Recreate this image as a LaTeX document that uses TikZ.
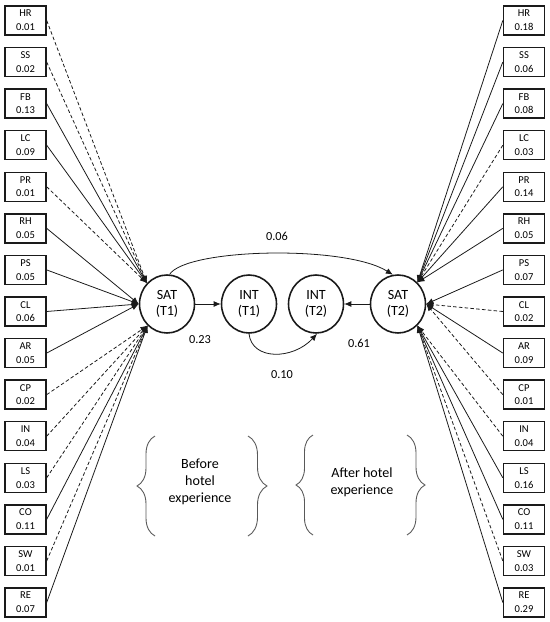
\documentclass[tikz,border=0pt]{standalone}
\usepackage{fontspec}
\setmainfont{Carlito}
\usepackage{tikz}
\usetikzlibrary{arrows.meta,shapes.geometric,decorations.pathreplacing}
\definecolor{ink}{HTML}{1A1A1A}
\definecolor{brk}{HTML}{595959}

\begin{document}
\begin{tikzpicture}[>={Latex[length=4pt,width=3.4pt]}, x=0.02cm, y=-0.02cm,
    item/.style={draw=ink, line width=0.8pt, minimum width=0.82cm, minimum height=0.58cm,
      inner sep=0pt, align=center, font=\fontsize{6}{7.8}\selectfont},
    latent/.style={ellipse, draw=ink, line width=0.9pt, minimum width=1.1cm, minimum height=1.16cm,
      inner sep=0pt, align=center, font=\fontsize{8}{9}\selectfont},
    link/.style={->, ink, line width=0.45pt},
    weak/.style={dash pattern=on 2pt off 1.3pt},
    coef/.style={font=\fontsize{7}{8}\selectfont},
    brc/.style={brk, line width=0.5pt, decorate, decoration={brace, amplitude=#1}},
    phase/.style={align=center, font=\fontsize{8}{9.7}\selectfont}]
        \useasboundingbox (0,0) rectangle (550,622);
        \node[latent] (sat1) at (167,304) {SAT\\(T1)};
        \node[latent] (int1) at (249,304) {INT\\(T1)};
        \node[latent] (int2) at (316,304) {INT\\(T2)};
        \node[latent] (sat2) at (398,304) {SAT\\(T2)};
        \foreach \lab/\val/\sty/\ang [count=\i] in {HR/0.01/weak/134, SS/0.02/weak/134,
            FB/0.13/solid/134, LC/0.09/solid/134, PR/0.01/weak/134, RH/0.05/solid/180,
            PS/0.05/solid/180, CL/0.06/solid/180, AR/0.05/solid/180, CP/0.02/weak/228,
            IN/0.04/weak/228, LS/0.03/weak/228, CO/0.11/solid/228, SW/0.01/weak/228,
            RE/0.07/solid/228}
          {\node[item] (L\i) at (25.5,{20.5+41.57*(\i-1)}) {\lab\\\val};
           \draw[link,\sty] (L\i.east) -- (sat1.\ang);}
        \foreach \lab/\val/\sty/\ang [count=\i] in {HR/0.18/solid/48, SS/0.06/solid/48,
            FB/0.08/solid/48, LC/0.03/weak/48, PR/0.14/solid/48, RH/0.05/solid/48,
            PS/0.07/solid/0, CL/0.02/weak/0, AR/0.09/solid/0, CP/0.01/weak/0,
            IN/0.04/weak/312, LS/0.16/solid/312, CO/0.11/solid/312, SW/0.03/weak/312,
            RE/0.29/solid/312}
          {\node[item] (R\i) at (524,{20.5+41.57*(\i-1)}) {\lab\\\val};
           \draw[link,\sty] (R\i.west) -- (sat2.\ang);}
        \draw[link] (sat1) -- (int1);
        \draw[link] (sat2) -- (int2);
        \draw[link] (sat1.85) .. controls +(17,-26) and +(-48,-30) .. (sat2.100);
        \draw[link] (int1.270) .. controls +(3,27) and +(-24,26) .. (int2.272);
        \node[coef] (c06) at (277,236) {0.06};
        \node[coef] (c23) at (200,340) {0.23};
        \node[coef] (c10) at (282,375) {0.10};
        \node[coef] (c61) at (359,343) {0.61};
        \draw[brc=18*0.02cm] (155,536) -- (155,436);
        \draw[brc=19*0.02cm] (248,436) -- (248,536);
        \draw[brc=17*0.02cm] (313,535) -- (313,435);
        \draw[brc=18*0.02cm] (407,435) -- (407,535);
        \node[phase] (before) at (200,482) {Before\\hotel\\experience};
        \node[phase] (after) at (362,482) {After hotel\\experience};
      \end{tikzpicture}
\end{document}
